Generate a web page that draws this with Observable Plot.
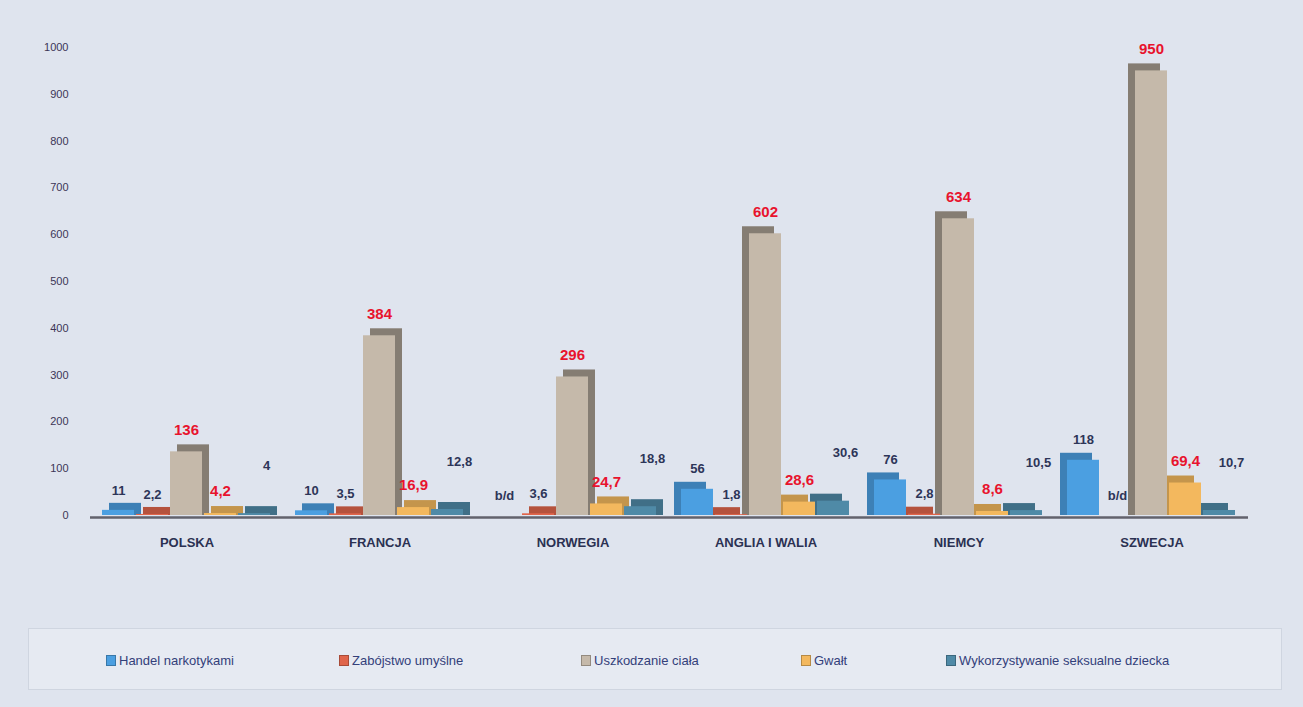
<!DOCTYPE html>
<html>
<head>
<meta charset="utf-8">
<script src="https://cdn.jsdelivr.net/npm/d3@7"></script>
<script src="https://cdn.jsdelivr.net/npm/@observablehq/plot@0.6"></script>
<style>
  html, body { margin: 0; padding: 0; }
  body { width: 1303px; height: 707px; background: #dfe4ee; position: relative; overflow: hidden; font-family: "Liberation Sans", "DejaVu Sans", sans-serif; }
  #chart { position: absolute; left: 0; top: 0; }
  #legend { position: absolute; left: 28px; top: 628px; width: 1254px; height: 62px; background: #e6eaf2; border: 1px solid #cfd5e0; box-sizing: border-box; }
  .item { position: absolute; top: 24px; display: flex; align-items: center; font-size: 13px; color: #33407a; white-space: nowrap; }
  .sw { width: 10px; height: 11px; margin-right: 3px; box-sizing: border-box; border: 1px solid rgba(0,0,0,0.25); }
</style>
</head>
<body>
<div id="chart"></div>
<div id="legend"></div>
<script>
const countries = ["POLSKA", "FRANCJA", "NORWEGIA", "ANGLIA I WALIA", "NIEMCY", "SZWECJA"];
const series = ["Handel narkotykami", "Zabójstwo umyślne", "Uszkodzanie ciała", "Gwałt", "Wykorzystywanie seksualne dziecka"];
const handel = [11, 10, null, 56, 76, 118];
const zabojstwo = [2.2, 3.5, 3.6, 1.8, 2.8, null];
const uszkodzenie = [136, 384, 296, 602, 634, 950];
const gwalt = [4.2, 16.9, 24.7, 28.6, 8.6, 69.4];
const wykorzystywanie = [4, 12.8, 18.8, 30.6, 10.5, 10.7];
const yTicks = [0, 100, 200, 300, 400, 500, 600, 700, 800, 900, 1000];
const colors = ["#4b9fe1", "#e0654b", "#c5b9aa", "#f3b85e", "#4f8aa7"];

const bySeries = [handel, zabojstwo, uszkodzenie, gwalt, wykorzystywanie];
const colorOf = Object.fromEntries(series.map((s, j) => [s, colors[j]]));
const sideOf = Object.fromEntries(series.map((s, j) => [s, d3.color(colors[j]).darker(j === 2 ? 1.1 : 0.6).formatHex()]));
const rows = countries.flatMap((c, i) => series.map((s, j) => ({
  country: c, ci: i, series: s, sj: j, value: bySeries[j][i]
})));
const fmt = v => v == null ? "b/d" : String(v).replace(".", ",");
const present = rows.filter(d => d.value != null);
const redLabel = rows.filter(d => d.sj === 2 || d.sj === 3);
const darkLabel = rows.filter(d => d.sj === 0 || d.sj === 1);
const childLabel = rows.filter(d => d.sj === 4);

const chart = Plot.plot({
  width: 1303,
  height: 600,
  marginLeft: 90,
  marginRight: 55,
  marginTop: 47,
  marginBottom: 85,
  style: { background: "transparent", fontFamily: "'Liberation Sans', 'DejaVu Sans', sans-serif", overflow: "visible" },
  fx: { domain: countries, padding: 0, label: null },
  x: { domain: series, paddingInner: 0.05, paddingOuter: 0.3, axis: null },
  y: { domain: [0, 1000], label: null },
  color: { type: "identity" },
  marks: [
    Plot.axisY({ ticks: yTicks, tickSize: 0, tickPadding: 22, fontSize: 11, fill: "#3c3556", label: null, tickFormat: d => String(d) }),
    Plot.axisFx({ anchor: "bottom", tickSize: 0, tickPadding: 22, fontSize: 13, fontWeight: "bold", fill: "#2b3152", label: null }),
    Plot.barY(present.filter(d => d.ci < 3), { fx: "country", x: "series", y: "value", fill: d => sideOf[d.series], dx: 7, dy: -7, insetBottom: -7 }),
    Plot.barY(present.filter(d => d.ci >= 3), { fx: "country", x: "series", y: "value", fill: d => sideOf[d.series], dx: -7, dy: -7, insetBottom: -7 }),
    Plot.barY(present, { fx: "country", x: "series", y: "value", fill: d => colorOf[d.series] }),
    Plot.ruleY([0], { stroke: "#62626c", strokeWidth: 2.5, dy: 2 }),
    Plot.text(darkLabel, { fx: "country", x: "series", y: d => d.value ?? 0, text: d => fmt(d.value), dy: -20, fill: "#2d3558", fontSize: 13, fontWeight: "bold" }),
    Plot.text(redLabel, { fx: "country", x: "series", y: d => d.value ?? 0, text: d => fmt(d.value), dy: -22, fill: "#e8132d", fontSize: 15, fontWeight: "bold" }),
    Plot.text(childLabel, { fx: "country", x: "series", y: d => d.value ?? 0, text: d => fmt(d.value), dx: 12, dy: -48, fill: "#2d3558", fontSize: 13, fontWeight: "bold" })
  ]
});
document.getElementById("chart").appendChild(chart);

const legend = document.getElementById("legend");
const lefts = [77, 310, 552, 772, 917];
series.forEach((s, j) => {
  const it = document.createElement("div");
  it.className = "item";
  it.style.left = lefts[j] + "px";
  const sw = document.createElement("span");
  sw.className = "sw";
  sw.style.background = colors[j];
  const tx = document.createElement("span");
  tx.textContent = s;
  it.appendChild(sw);
  it.appendChild(tx);
  legend.appendChild(it);
});
</script>
</body>
</html>
